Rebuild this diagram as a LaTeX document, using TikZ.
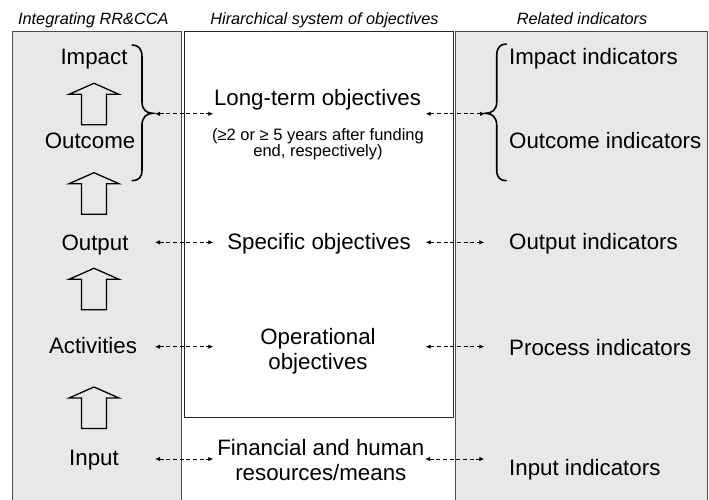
\documentclass[tikz,border=0pt]{standalone}
\usepackage{fontspec}
\setmainfont{Liberation Sans}
\usetikzlibrary{arrows.meta}
\tikzset{
  uparr/.pic={\draw[line width=1.3pt, line join=miter, draw=black]
     (0,0) -- (25,11) -- (12.5,11) -- (12.5,41.5) -- (-12.5,41.5) -- (-12.5,11) -- (-25,11) -- cycle;}
}
\begin{document}
\begin{tikzpicture}[x=1pt,y=-1pt,
  col/.style={draw=black!70, line width=0.9pt, fill=black!9},
  mid/.style={draw=black!85, line width=0.9pt, fill=white},
  hdr/.style={font=\fontsize{16.3}{19}\selectfont\itshape, anchor=base, inner sep=0pt},
  lbl/.style={font=\fontsize{22.3}{24.5}\selectfont, anchor=base, inner sep=0pt},
  lblr/.style={lbl, anchor=base west},
  sub/.style={font=\fontsize{16.5}{17}\selectfont, anchor=base, inner sep=0pt, align=center},
  link/.style={dash pattern=on 4pt off 2.7pt, line width=0.9pt, {Latex[length=5pt,width=4.5pt]}-{Latex[length=5pt,width=4.5pt]}},
  brc/.style={line width=1.6pt}
]
\useasboundingbox (0,0) rectangle (709,500);
% columns
\path[col] (12.7,31.7) rectangle (181.7,512);
\path[col] (455.5,31.7) rectangle (707.7,512);
\path[mid] (184.5,31.7) rectangle (453.5,417.5);

% headers
\node[hdr] (h1) at (93.3,25) {Integrating RR\&CCA};
\node[hdr] (h2) at (324.5,25) {Hirarchical system of objectives};
\node[hdr] (h3) at (582,25) {Related indicators};

% left column
\node[lbl] (impact) at (94,65) {Impact};
\node[lbl] (outcome) at (90,149) {Outcome};
\node[lbl] (output) at (95,250) {Output};
\node[lbl] (activities) at (93,353.5) {Activities};
\node[lbl] (input) at (94,465) {Input};

\pic at (94,83.3) {uparr};
\pic at (94,172.7) {uparr};
\pic at (94,268.3) {uparr};
\pic at (94,387) {uparr};

% braces
\draw[brc] (131.7,45) .. controls (138,45) and (142,48) .. (142,57) -- (142,102)
  .. controls (142,110) and (147,113.3) .. (152.7,113.3)
  .. controls (147,113.3) and (142,117) .. (142,125) -- (142,170)
  .. controls (142,178) and (138,180.7) .. (131.7,180.7);
\draw[brc] (506.7,44) .. controls (500.5,44) and (496.7,47) .. (496.7,56) -- (496.7,102)
  .. controls (496.7,110) and (491.7,113.3) .. (485.7,113.3)
  .. controls (491.7,113.3) and (496.7,117) .. (496.7,125) -- (496.7,170)
  .. controls (496.7,178) and (500.5,180.7) .. (506.7,180.7);

% middle column (multi-line nodes: base = last line)
\node[lbl] (longterm) at (317.5,105.7) {Long-term objectives};
\node[sub] (note) at (318,157) {(≥2 or ≥ 5 years after funding\\end, respectively)};
\node[lbl] (specific) at (319,249.5) {Specific objectives};
\node[lbl, align=center] (oper) at (318,369) {Operational\\objectives};
\node[lbl, align=center] (fin) at (320.8,480) {Financial and human\\resources/means};

% right column
\node[lblr] (impind) at (509,65) {Impact indicators};
\node[lblr] (outind) at (509,149) {Outcome indicators};
\node[lblr] (outpind) at (509,249.5) {Output indicators};
\node[lblr] (procind) at (509,355.5) {Process indicators};
\node[lblr] (inind) at (509,475.7) {Input indicators};

% connector ends
\coordinate (a1) at (155,113.8);   \coordinate (b1) at (213.3,113.8);
\coordinate (c1) at (425.7,113.8); \coordinate (d1) at (485,113.8);
\coordinate (a2) at (155,242.3);   \coordinate (b2) at (213.3,242.3);
\coordinate (c2) at (425.7,242.3); \coordinate (d2) at (484.3,242.3);
\coordinate (a3) at (155,346.7);   \coordinate (b3) at (213.3,346.7);
\coordinate (c3) at (425.7,346.7); \coordinate (d3) at (484.3,346.7);
\coordinate (a4) at (155,459);     \coordinate (b4) at (213.3,459);
\coordinate (c4) at (425,459);     \coordinate (d4) at (484.3,459);

\draw[link] (a1) -- (b1);
\draw[link] (c1) -- (d1);
\draw[link] (a2) -- (b2);
\draw[link] (c2) -- (d2);
\draw[link] (a3) -- (b3);
\draw[link] (c3) -- (d3);
\draw[link] (a4) -- (b4);
\draw[link] (c4) -- (d4);
\end{tikzpicture}
\end{document}
